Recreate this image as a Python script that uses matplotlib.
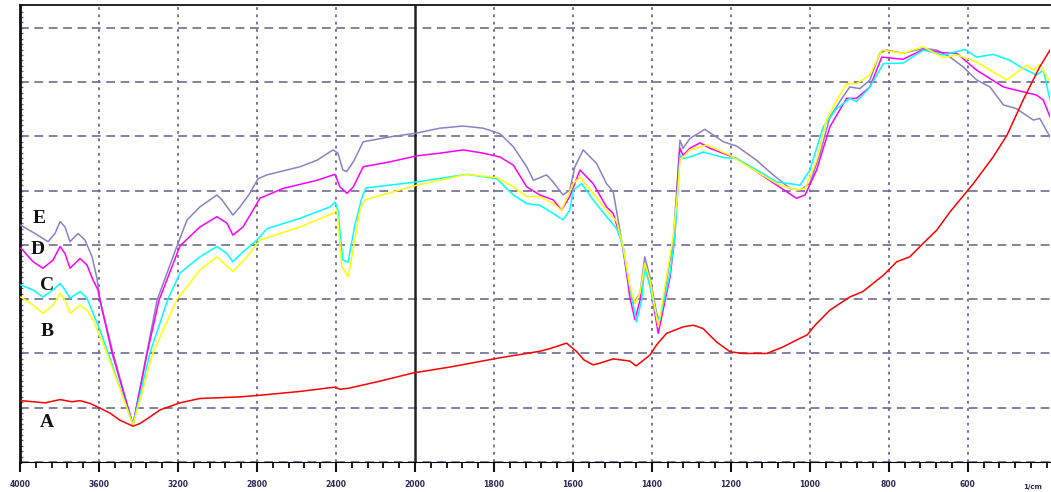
import numpy as np
import matplotlib
matplotlib.use("Agg")
import matplotlib.pyplot as plt

# ---------------- data (wavenumber in 1/cm, signal in arbitrary units) ----------------
wn_A = [3995, 3873, 3797, 3737, 3696, 3646, 3610, 3544, 3494, 3428, 3392, 3342, 3291, 3190, 3089,
        2886, 2785, 2582, 2405, 2380, 2334, 2177, 2010, 1911, 1785, 1684, 1658, 1616, 1590, 1572,
        1549, 1532, 1498, 1456, 1440, 1405, 1388, 1363, 1321, 1295, 1271, 1236, 1202, 1169, 1109,
        1068, 1025, 1007, 987, 949, 899, 866, 814, 780, 747, 713, 679, 645, 620, 586, 536, 501,
        460, 418, 392]
val_A = [11.3, 10.9, 11.5, 11.1, 11.3, 10.8, 10.2, 9.0, 7.7, 6.6, 7.1, 8.3, 9.6, 10.9, 11.7,
         12.0, 12.3, 13.0, 13.8, 13.4, 13.6, 14.9, 16.4, 17.5, 19.2, 20.4, 20.9, 21.9, 20.3, 18.8,
         17.9, 18.2, 19.0, 18.6, 17.7, 19.7, 21.6, 23.7, 24.9, 25.2, 24.6, 22.1, 20.3, 20.0, 20.0,
         21.2, 22.8, 23.4, 25.2, 28.0, 30.4, 31.4, 34.4, 36.9, 37.8, 40.3, 42.7, 46.1, 48.3, 51.3,
         56.2, 60.2, 66.7, 72.8, 75.9]

wn_B = [3995, 3934, 3884, 3833, 3797, 3772, 3747, 3696, 3661, 3630, 3595, 3560, 3428, 3327, 3205,
        3154, 3089, 3003, 2922, 2851, 2785, 2582, 2415, 2395, 2370, 2338, 2304, 2279, 2253, 1996,
        1869, 1793, 1751, 1717, 1684, 1650, 1629, 1599, 1582, 1549, 1515, 1489, 1473, 1456, 1443,
        1430, 1418, 1405, 1384, 1346, 1333, 1329, 1304, 1261, 1202, 1135, 1084, 1034, 1012, 983,
        958, 932, 907, 882, 848, 818, 764, 713, 662, 628, 578, 502, 451, 434, 418, 392]
val_B = [30.4, 28.9, 27.4, 28.9, 31.1, 29.8, 27.4, 28.9, 28.0, 26.2, 23.1, 20.1, 6.8, 20.1, 30.0,
         32.3, 35.4, 37.8, 35.1, 37.8, 40.9, 43.3, 45.8, 46.4, 36.0, 34.1, 40.9, 46.4, 48.3, 51.0,
         53.0, 52.4, 50.7, 48.9, 48.9, 47.6, 46.4, 51.3, 52.5, 49.5, 46.4, 44.3, 39.7, 32.3, 29.2,
         31.1, 36.6, 33.5, 24.9, 41.5, 51.3, 55.6, 57.5, 58.4, 56.5, 53.5, 51.3, 50.1, 50.4, 55.6,
         63.0, 66.7, 69.7, 69.7, 71.3, 75.9, 75.3, 76.5, 74.5, 75.0, 73.7, 70.4, 73.1, 72.2, 73.2,
         70.0]

wn_C = [3995, 3934, 3884, 3833, 3797, 3772, 3747, 3696, 3661, 3630, 3595, 3554, 3428, 3342, 3251,
        3190, 3089, 3003, 2952, 2922, 2871, 2800, 2749, 2582, 2430, 2405, 2390, 2365, 2339, 2304,
        2268, 2248, 1996, 1869, 1793, 1751, 1717, 1684, 1650, 1625, 1608, 1599, 1578, 1549, 1515,
        1489, 1473, 1456, 1439, 1426, 1418, 1405, 1388, 1380, 1354, 1342, 1333, 1329, 1321, 1304,
        1270, 1219, 1185, 1135, 1084, 1025, 1000, 966, 932, 899, 882, 848, 814, 764, 713, 662,
        607, 578, 536, 494, 460, 426, 409, 392]
val_C = [32.6, 31.7, 30.4, 31.7, 32.9, 31.7, 30.2, 31.4, 30.2, 27.4, 24.3, 20.1, 6.8, 20.1, 30.0,
         34.8, 37.8, 39.7, 38.4, 36.9, 38.7, 40.9, 43.0, 44.9, 47.0, 47.9, 46.4, 37.2, 36.8, 43.7,
         48.8, 50.5, 51.6, 53.0, 52.2, 49.2, 47.6, 47.3, 45.8, 44.6, 46.4, 50.1, 51.3, 48.3, 45.2,
         43.0, 39.7, 32.3, 25.8, 29.8, 36.0, 32.3, 26.8, 26.2, 34.8, 41.5, 51.3, 56.5, 55.9, 56.2,
         57.1, 56.1, 55.9, 53.8, 51.6, 51.0, 53.8, 61.8, 65.1, 67.0, 66.4, 69.1, 73.4, 73.5, 75.9,
         75.0, 76.0, 74.6, 75.1, 74.0, 72.5, 71.3, 72.2, 66.7]

wn_D = [3995, 3934, 3884, 3833, 3797, 3772, 3747, 3696, 3661, 3630, 3605, 3595, 3534, 3428, 3357,
        3296, 3190, 3089, 3003, 2952, 2922, 2871, 2820, 2785, 2668, 2496, 2405, 2380, 2344, 2312,
        2262, 2127, 1996, 1937, 1878, 1827, 1785, 1751, 1717, 1684, 1650, 1629, 1608, 1582, 1549,
        1515, 1498, 1473, 1456, 1443, 1430, 1418, 1405, 1384, 1354, 1342, 1333, 1329, 1321, 1304,
        1278, 1253, 1185, 1135, 1084, 1034, 1012, 983, 949, 907, 882, 848, 818, 764, 713, 662,
        628, 578, 510, 460, 426, 409, 392]
val_D = [39.4, 36.9, 35.7, 37.2, 39.7, 38.4, 35.7, 37.5, 36.3, 33.5, 31.7, 29.8, 20.1, 6.8, 19.9,
         29.8, 39.8, 43.3, 45.2, 44.0, 41.8, 43.3, 46.4, 48.6, 50.4, 51.9, 53.0, 50.7, 49.5, 50.7,
         54.4, 55.3, 56.4, 56.9, 57.5, 56.9, 56.2, 54.7, 50.7, 49.2, 48.3, 46.4, 48.9, 53.8, 51.3,
         47.0, 45.8, 39.7, 30.4, 26.2, 29.8, 36.6, 32.9, 23.7, 34.1, 41.5, 54.4, 57.8, 56.5, 57.8,
         58.8, 57.8, 55.9, 53.5, 51.0, 48.6, 49.2, 53.8, 61.8, 67.0, 67.0, 69.1, 74.6, 74.2, 76.0,
         75.4, 75.3, 72.2, 69.1, 68.2, 67.6, 66.7, 63.6]

wn_E = [3995, 3924, 3858, 3823, 3797, 3772, 3747, 3706, 3671, 3635, 3610, 3595, 3529, 3428, 3359,
        3306, 3205, 3154, 3089, 3003, 2977, 2922, 2886, 2836, 2795, 2749, 2582, 2496, 2415, 2390,
        2365, 2346, 2312, 2262, 2127, 1996, 1937, 1878, 1827, 1785, 1751, 1717, 1700, 1667, 1650,
        1625, 1608, 1595, 1574, 1540, 1515, 1498, 1481, 1464, 1447, 1430, 1418, 1405, 1388, 1380,
        1346, 1333, 1329, 1321, 1304, 1266, 1219, 1185, 1135, 1093, 1050, 1025, 1000, 974, 949,
        916, 899, 873, 848, 823, 806, 764, 713, 679, 645, 612, 578, 544, 510, 477, 434, 418, 392]
val_E = [43.6, 42.1, 40.6, 42.1, 44.3, 43.3, 40.6, 42.1, 40.9, 37.8, 33.8, 29.8, 20.1, 6.8, 19.9,
         29.8, 39.8, 44.6, 47.0, 49.2, 48.3, 45.5, 47.0, 49.5, 52.2, 52.9, 54.4, 55.6, 57.5, 56.9,
         53.8, 53.5, 55.3, 59.0, 59.9, 60.6, 61.5, 61.9, 61.5, 60.5, 58.1, 54.4, 51.9, 52.9, 51.6,
         49.2, 50.1, 54.4, 57.5, 55.0, 51.3, 49.8, 42.7, 34.8, 29.2, 31.1, 37.8, 34.1, 27.4, 25.8,
         40.9, 54.4, 59.3, 57.8, 59.6, 61.3, 59.0, 58.2, 55.6, 52.9, 50.4, 50.1, 51.3, 56.9, 63.6,
         67.3, 69.1, 68.8, 70.4, 75.3, 75.9, 75.3, 76.2, 75.9, 74.6, 72.8, 70.4, 69.1, 65.8, 65.1,
         63.0, 63.3, 59.9]

series_names = ["E", "D", "C", "B", "A"]
major_ticks = [4000, 3600, 3200, 2800, 2400, 2000, 1800, 1600, 1400, 1200, 1000, 800, 600]
tick_labels = ["4000", "3600", "3200", "2800", "2400", "2000", "1800", "1600", "1400", "1200",
               "1000", "800", "600"]
unit_label = "1/cm"

# ---------------- figure ----------------
W, H = 1051, 492
fig = plt.figure(figsize=(W / 100, H / 100), dpi=100)
ax = fig.add_axes([20 / W, 30 / H, 1030 / W, 457 / H])


def fwd(x):
    x = np.asarray(x, dtype=float)
    return np.where(x >= 2000, x, 2 * x - 2000)


def inv(y):
    y = np.asarray(y, dtype=float)
    return np.where(y >= 2000, y, (y + 2000) / 2)


ax.set_xscale("function", functions=(fwd, inv))
ax.set_xlim(4000, 392)
ax.set_ylim(0, 84.2)

grid_col = "#67658c"
for t in major_ticks:
    if t == 2000:
        continue
    ax.axvline(t, color=grid_col, lw=1.25, linestyle=(0, (1.6, 2.6)), zorder=1)
for yv in range(10, 90, 10):
    ax.axhline(yv, color=grid_col, lw=1.15, linestyle=(0, (5.5, 3.5)), zorder=1)
ax.axhline(0, color=grid_col, lw=1.15, linestyle=(0, (5.5, 3.5)), zorder=1)
ax.axvline(2000, color="#222222", lw=1.8, zorder=2)

ax.plot(wn_E, val_E, color="#8a82c4", lw=1.1, zorder=3)
ax.plot(wn_D, val_D, color="#ff00ff", lw=1.1, zorder=4)
ax.plot(wn_C, val_C, color="#00ffff", lw=1.1, zorder=5)
ax.plot(wn_B, val_B, color="#ffff00", lw=1.1, zorder=6)
ax.plot(wn_A, val_A, color="#ff0000", lw=1.1, zorder=7)

# curve letters
label_pos = {"E": (3904, 44.8), "D": (3909, 39.2), "C": (3863, 32.6),
             "B": (3863, 24.1), "A": (3863, 7.2)}
for name in series_names:
    x, y = label_pos[name]
    ax.text(x, y, name, fontsize=14, fontweight="bold", family="Liberation Serif",
            ha="center", va="center", color="#111111", zorder=8)

# axes styling
ax.spines["right"].set_visible(False)
ax.spines["left"].set_linewidth(2.0)
ax.spines["top"].set_linewidth(1.3)
ax.spines["bottom"].set_linewidth(0.8)
ax.spines["left"].set_color("#111111")
ax.spines["top"].set_color("#111111")

minor = [4000 - 80 * i for i in range(26)] + [2000 - 40 * i for i in range(1, 41)]
ax.set_xticks(major_ticks)
ax.set_xticklabels(tick_labels, fontsize=5.5, fontweight="bold", color="#2a2a55")
ax.set_xticks(minor, minor=True)
ax.tick_params(axis="x", which="major", direction="out", length=7, width=1.5, pad=6,
               color="#111111")
ax.tick_params(axis="x", which="minor", direction="out", length=4, width=1.3, color="#111111")
ax.set_yticks([])
ax.set_yticks(np.arange(0, 84, 1.0), minor=True)
ax.tick_params(axis="y", which="minor", direction="in", length=2, width=1.0, color=grid_col)

fig.text(1042 / W, 1 - 487 / H, unit_label, fontsize=5, ha="right", va="center",
         color="#2a2a55", fontweight="bold")

fig.savefig("out.png", dpi=100)
